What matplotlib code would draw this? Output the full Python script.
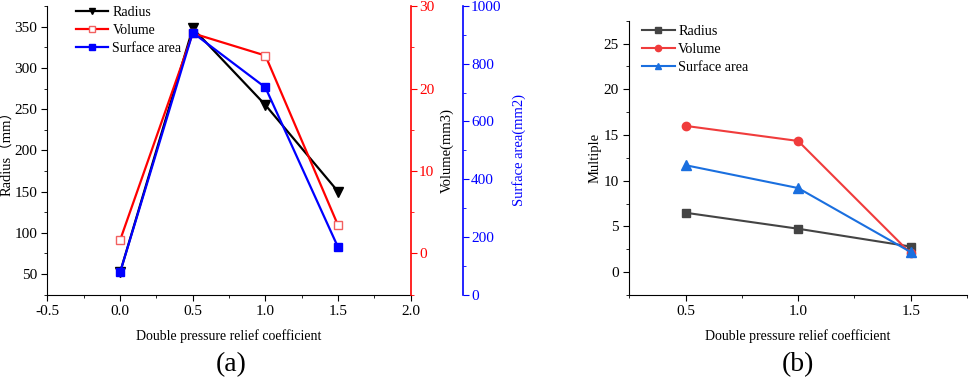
import matplotlib
matplotlib.use("Agg")
import matplotlib.pyplot as plt
from matplotlib.ticker import MultipleLocator, FormatStrFormatter

plt.rcParams['font.family'] = ['Liberation Serif', 'DejaVu Serif']
plt.rcParams['xtick.direction'] = 'out'
plt.rcParams['ytick.direction'] = 'out'
plt.rcParams['axes.unicode_minus'] = False

# (a) data
coef_a = [0.0, 0.5, 1.0, 1.5]
radius_a = [52, 348, 255, 150]
volume_a = [1.6, 26.7, 24.0, 3.4]
surface_a = [77, 908, 718, 164]

# (b) data
coef_b = [0.5, 1.0, 1.5]
radius_b = [6.5, 4.75, 2.8]
volume_b = [16.0, 14.35, 2.05]
surface_b = [11.7, 9.2, 2.2]

fig = plt.figure(figsize=(9.69, 3.82), dpi=100)

# ---------- panel (a) ----------
ax = fig.add_axes([0.049, 0.229, 0.3748, 0.755])
ax2 = ax.twinx()
ax3 = ax.twinx()
ax3.spines['right'].set_position(('axes', 1.143))

l1, = ax.plot(coef_a, radius_a, color='black', lw=1.6, marker='v', ms=6.5, label='Radius')
l2, = ax2.plot(coef_a, volume_a, color='#FF0000', lw=1.6, marker='s', ms=5.5,
               mfc='white', mec='#F26060', mew=1.0, label='Volume')
l3, = ax3.plot(coef_a, surface_a, color='#0000FF', lw=1.6, marker='s', ms=5.5,
               label='Surface area')

ax.set_xlim(-0.5, 2.0)
ax.set_ylim(25, 375)
ax2.set_ylim(-5, 30)
ax3.set_ylim(0, 1000)

ax.xaxis.set_major_locator(MultipleLocator(0.5))
ax.xaxis.set_minor_locator(MultipleLocator(0.25))
ax.xaxis.set_major_formatter(FormatStrFormatter('%.1f'))
ax.yaxis.set_major_locator(MultipleLocator(50))
ax.yaxis.set_minor_locator(MultipleLocator(25))
ax2.yaxis.set_major_locator(MultipleLocator(10))
ax2.yaxis.set_minor_locator(MultipleLocator(5))
ax3.yaxis.set_major_locator(MultipleLocator(200))
ax3.yaxis.set_minor_locator(MultipleLocator(100))

for a in (ax, ax2, ax3):
    a.spines['top'].set_visible(False)
ax.spines['right'].set_visible(False)
ax2.spines['left'].set_visible(False)
ax3.spines['left'].set_visible(False)
ax2.spines['bottom'].set_visible(False)
ax3.spines['bottom'].set_visible(False)
ax2.spines['right'].set_color('#FF0000')
ax3.spines['right'].set_color('#0000FF')
ax2.spines['right'].set_linewidth(1.2)
ax3.spines['right'].set_linewidth(1.2)

ax.tick_params(which='major', length=4, labelsize=11)
ax.tick_params(which='minor', length=2.5)
ax2.tick_params(axis='y', which='both', colors='#FF0000', labelsize=11, pad=2)
ax2.tick_params(which='major', length=4)
ax2.tick_params(which='minor', length=2.5)
ax3.tick_params(axis='y', which='both', colors='#0000FF', labelsize=11, pad=2)
ax3.tick_params(which='major', length=4)
ax3.tick_params(which='minor', length=2.5)

ax.set_ylabel('Radius\uff08mm\uff09', fontsize=10.5,
              family=['Liberation Serif', 'Noto Sans CJK SC'])
ax.yaxis.set_label_coords(-0.094, 0.5)
ax2.set_ylabel('Volume(mm3)', fontsize=10.5, color='black')
ax2.yaxis.set_label_coords(1.081, 0.5)
ax3.set_ylabel('Surface area(mm2)', fontsize=10.5, color='#0000FF')
ax3.yaxis.set_label_coords(1.279, 0.5)
ax.set_xlabel('Double pressure relief coefficient', fontsize=10, labelpad=8)

ax3.legend(handles=[l1, l2, l3], loc='upper left', bbox_to_anchor=(0.045, 1.045),
           frameon=False, fontsize=10, handlelength=2.25, labelspacing=0.38,
           handletextpad=0.35, markerscale=0.75)

fig.text(0.239, 0.045, '(a)', fontsize=20, ha='center', va='center')

# ---------- panel (b) ----------
bx = fig.add_axes([0.6494, 0.2277, 0.3485, 0.718])
bx.plot(coef_b, radius_b, color='#444444', lw=1.5, marker='s', ms=5.5, label='Radius')
bx.plot(coef_b, volume_b, color='#F03C3C', lw=1.5, marker='o', ms=6, label='Volume')
bx.plot(coef_b, surface_b, color='#1A6FDF', lw=1.5, marker='^', ms=6.5, label='Surface area')

bx.set_xlim(0.25, 1.75)
bx.set_ylim(-2.5, 27.5)
bx.xaxis.set_major_locator(MultipleLocator(0.5))
bx.xaxis.set_minor_locator(MultipleLocator(0.25))
bx.yaxis.set_major_locator(MultipleLocator(5))
bx.yaxis.set_minor_locator(MultipleLocator(2.5))
bx.spines['top'].set_visible(False)
bx.spines['right'].set_visible(False)
bx.tick_params(which='major', length=4, labelsize=11)
bx.tick_params(which='minor', length=2.5)
bx.set_ylabel('Multiple', fontsize=10.5)
bx.yaxis.set_label_coords(-0.081, 0.5)
bx.set_xlabel('Double pressure relief coefficient', fontsize=10, labelpad=8)
bx.legend(loc='upper left', bbox_to_anchor=(0.0, 1.03), frameon=False, fontsize=10.2,
          handlelength=2.3, labelspacing=0.35, handletextpad=0.25, markerscale=0.75)

fig.text(0.823, 0.045, '(b)', fontsize=20, ha='center', va='center')

fig.savefig('out.png', dpi=100)
plt.close(fig)
